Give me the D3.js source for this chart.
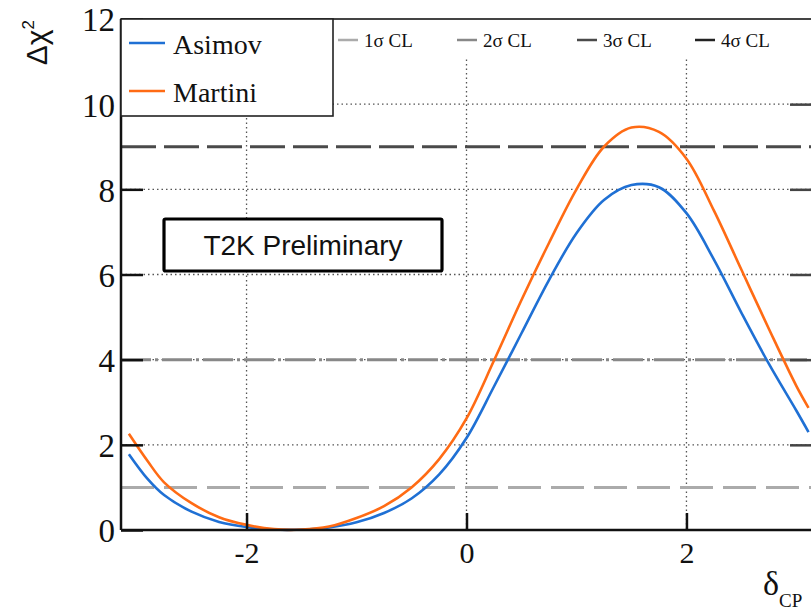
<!DOCTYPE html>
<html>
<head>
<meta charset="utf-8">
<script src="https://cdn.jsdelivr.net/npm/d3@7"></script>
<style>
  body { margin: 0; background: #fff; }
  text { font-family: "Liberation Serif", "Times New Roman", serif; }
</style>
</head>
<body>
<div id="chart"></div>
<script>
// delta_CP grid and the two delta chi^2 curves
const deltaCP = [-3.07, -2.9, -2.75, -2.5, -2.25, -2.0, -1.75, -1.5, -1.25, -1.0, -0.75, -0.5, -0.25,
  0, 0.25, 0.5, 0.75, 1.0, 1.25, 1.5, 1.75, 2.0, 2.25, 2.5, 2.75, 3.0, 3.11];
const asimov = [1.78, 1.2, 0.82, 0.43, 0.19, 0.07, 0.01, 0.01, 0.06, 0.18, 0.4, 0.74, 1.3,
  2.16, 3.37, 4.62, 5.87, 6.97, 7.75, 8.1, 8.05, 7.44, 6.35, 5.1, 3.9, 2.8, 2.3];
const martini = [2.26, 1.62, 1.12, 0.63, 0.3, 0.12, 0.02, 0.01, 0.08, 0.28, 0.56, 1.0, 1.66,
  2.62, 3.98, 5.4, 6.74, 8.0, 9.0, 9.45, 9.35, 8.72, 7.5, 6.11, 4.72, 3.38, 2.87];

const seriesNames = ["Asimov", "Martini"];
const clNames = ["1σ CL", "2σ CL", "3σ CL", "4σ CL"];
const clLevels = [1, 4, 9, 16];
const xTicks = [-2, 0, 2];
const yTicks = [0, 2, 4, 6, 8, 10, 12];

const width = 811, height = 612;
const m = {left: 121, right: 812, top: 19, bottom: 530};

const svg = d3.select("#chart").append("svg")
  .attr("width", width)
  .attr("height", height);

const x = d3.scaleLinear().domain([-Math.PI, Math.PI]).range([m.left, m.right]);
const y = d3.scaleLinear().domain([0, 12]).range([m.bottom, m.top]);

const colors = {Asimov: "#1f70d4", Martini: "#ff6b14"};
const clColors = ["#ababab", "#888", "#4a4a4a", "#222"];
const clDash = ["33,10", "30,4,3,4", "35,8", "35,8"];

// dotted grid
svg.append("g").selectAll("line")
  .data(xTicks)
  .join("line")
  .attr("x1", d => x(d)).attr("x2", d => x(d))
  .attr("y1", m.top).attr("y2", m.bottom)
  .attr("stroke", "#555").attr("stroke-width", 1.3)
  .attr("stroke-dasharray", "1.5,3");
svg.append("g").selectAll("line")
  .data(yTicks.filter(d => d > 0 && d < 12))
  .join("line")
  .attr("x1", m.left).attr("x2", m.right)
  .attr("y1", d => y(d)).attr("y2", d => y(d))
  .attr("stroke", "#555").attr("stroke-width", 1.3)
  .attr("stroke-dasharray", "1.5,3");

// CL lines
svg.append("g").selectAll("line")
  .data(clLevels.filter(d => d <= 12))
  .join("line")
  .attr("x1", m.left).attr("x2", m.right)
  .attr("y1", d => y(d)).attr("y2", d => y(d))
  .attr("stroke", (d, i) => clColors[i])
  .attr("stroke-width", 3)
  .attr("stroke-dasharray", (d, i) => clDash[i]);

// curves
const line = d3.line()
  .x(d => x(d[0]))
  .y(d => y(d[1]))
  .curve(d3.curveCatmullRom.alpha(0.5));

[asimov, martini].forEach((vals, i) => {
  svg.append("path")
    .datum(deltaCP.map((d, j) => [d, vals[j]]))
    .attr("fill", "none")
    .attr("stroke", colors[seriesNames[i]])
    .attr("stroke-width", 2.6)
    .attr("d", line);
});

// frame
svg.append("line").attr("x1", m.left).attr("x2", m.right).attr("y1", m.top).attr("y2", m.top)
  .attr("stroke", "#444").attr("stroke-width", 2);
svg.append("line").attr("x1", m.left).attr("x2", m.right).attr("y1", m.bottom).attr("y2", m.bottom)
  .attr("stroke", "#111").attr("stroke-width", 2.5);
svg.append("line").attr("x1", m.left).attr("x2", m.left).attr("y1", m.top).attr("y2", m.bottom)
  .attr("stroke", "#111").attr("stroke-width", 2.5);

// axes with inward ticks
const yAxis = svg.append("g")
  .attr("transform", `translate(${m.left},0)`)
  .call(d3.axisLeft(y).tickValues(yTicks).tickSize(-22).tickPadding(6).tickFormat(d3.format("d")));
const xAxis = svg.append("g")
  .attr("transform", `translate(0,${m.bottom})`)
  .call(d3.axisBottom(x).tickValues(xTicks).tickSize(-17).tickPadding(12).tickFormat(d => d < 0 ? "-" + Math.abs(d) : d));
svg.append("g")
  .attr("transform", `translate(${m.right},0)`)
  .call(d3.axisRight(y).tickValues(yTicks.filter(d => d > 0)).tickSize(-22).tickFormat(""))
  .call(g => g.select(".domain").remove())
  .selectAll("line").attr("stroke", "#444").attr("stroke-width", 2.5);

[yAxis, xAxis].forEach(g => {
  g.attr("font-family", null).attr("font-size", null);
  g.select(".domain").remove();
  g.selectAll(".tick line").attr("stroke", "#111").attr("stroke-width", 2.5);
  g.selectAll(".tick text")
    .attr("fill", "#111")
    .style("font-family", "'Liberation Serif', serif");
});
yAxis.selectAll(".tick text").style("font-size", "33px").attr("dy", "0.36em");
xAxis.selectAll(".tick text").style("font-size", "30px");

// legend for CL lines (white backdrop)
svg.append("rect").attr("x", 333).attr("y", m.top + 1).attr("width", m.right - 333).attr("height", 38)
  .attr("fill", "#fff");
const clX = [338, 457, 577, 695];
const clLeg = svg.append("g").selectAll("g")
  .data(clNames)
  .join("g")
  .attr("transform", (d, i) => `translate(${clX[i]},40)`);
clLeg.append("line")
  .attr("x1", 0).attr("x2", 20)
  .attr("stroke", (d, i) => clColors[i]).attr("stroke-width", 2.5);
clLeg.append("text")
  .attr("x", 26).attr("y", 7)
  .style("font-size", "19px")
  .attr("fill", "#111")
  .text(d => d);

// series legend
svg.append("rect").attr("x", m.left).attr("y", m.top).attr("width", 212).attr("height", 97)
  .attr("fill", "#fff").attr("stroke", "#222").attr("stroke-width", 1.6);
const sLeg = svg.append("g").selectAll("g")
  .data(seriesNames)
  .join("g")
  .attr("transform", (d, i) => `translate(129,${[43, 91][i]})`);
sLeg.append("line")
  .attr("x1", 0).attr("x2", 36)
  .attr("stroke", d => colors[d]).attr("stroke-width", 2.6);
sLeg.append("text")
  .attr("x", 44).attr("y", 11)
  .style("font-size", "28px")
  .attr("fill", "#111")
  .text(d => d);

// T2K Preliminary box
svg.append("rect").attr("x", 164).attr("y", 219).attr("width", 278).attr("height", 52)
  .attr("fill", "#fff").attr("stroke", "#000").attr("stroke-width", 3.2).attr("rx", 1.5);
svg.append("text")
  .attr("x", 303).attr("y", 255)
  .attr("text-anchor", "middle")
  .style("font-family", "'Liberation Sans', Arial, sans-serif")
  .style("font-size", "28px")
  .attr("fill", "#111")
  .text("T2K Preliminary");

// axis titles
const yt = svg.append("text")
  .attr("transform", "translate(47,20) rotate(-90)")
  .attr("text-anchor", "end")
  .style("font-family", "'Liberation Sans', Arial, sans-serif")
  .style("font-size", "30px")
  .attr("fill", "#111");
yt.append("tspan").text("Δχ");
yt.append("tspan").attr("dy", -13).style("font-size", "17px").text("2");

const xt = svg.append("text")
  .attr("x", 763).attr("y", 595)
  .style("font-size", "34px")
  .attr("fill", "#111");
xt.append("tspan").text("δ");
xt.append("tspan").attr("dy", 12).style("font-size", "19px").text("CP");
</script>
</body>
</html>
